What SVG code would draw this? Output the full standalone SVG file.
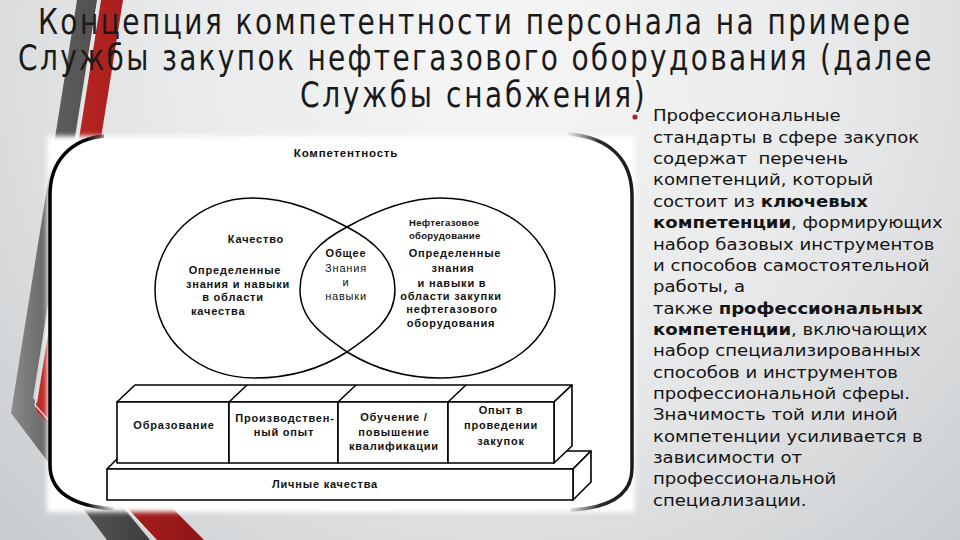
<svg xmlns="http://www.w3.org/2000/svg" width="960" height="540" viewBox="0 0 960 540">
  <defs>
    <radialGradient id="bg" cx="500" cy="60" r="760" gradientUnits="userSpaceOnUse">
      <stop offset="0" stop-color="#f6f6f6"/>
      <stop offset="0.45" stop-color="#e8e9ea"/>
      <stop offset="1" stop-color="#c2c6c9"/>
    </radialGradient>
    <linearGradient id="grayStripe" x1="0" y1="0" x2="1" y2="0">
      <stop offset="0" stop-color="#8a8a8a"/>
      <stop offset="0.35" stop-color="#5c5c5c"/>
      <stop offset="1" stop-color="#3e3e3e"/>
    </linearGradient>
    <linearGradient id="redStripe" x1="0" y1="0" x2="1" y2="0">
      <stop offset="0" stop-color="#c42a26"/>
      <stop offset="1" stop-color="#8e1515"/>
    </linearGradient>
    <linearGradient id="frameL" x1="50" y1="0" x2="116" y2="0" gradientUnits="userSpaceOnUse">
      <stop offset="0" stop-color="#000" stop-opacity="1"/>
      <stop offset="0.55" stop-color="#000" stop-opacity="1"/>
      <stop offset="1" stop-color="#000" stop-opacity="0"/>
    </linearGradient>
    <linearGradient id="frameR" x1="633" y1="0" x2="566" y2="0" gradientUnits="userSpaceOnUse">
      <stop offset="0" stop-color="#1a1a1a" stop-opacity="1"/>
      <stop offset="0.5" stop-color="#2a2a2a" stop-opacity="1"/>
      <stop offset="1" stop-color="#444" stop-opacity="0"/>
    </linearGradient>
    <filter id="soft" x="-5%" y="-5%" width="110%" height="110%">
      <feGaussianBlur stdDeviation="2.5"/>
    </filter>
    <style>
      .title { font-family: "DejaVu Sans", "Liberation Sans", sans-serif; font-size: 35px; fill: #1a1a1a; }
      .body { font-family: "DejaVu Sans", "Noto Sans", sans-serif; font-size: 16px; fill: #141414; }
      .b { font-weight: bold; }
      .t { font-family: "Liberation Sans", Arial, sans-serif; font-weight: bold; font-size: 11px; letter-spacing: 0.8px; text-anchor: middle; fill: #111; }
      .ts { font-family: "Liberation Sans", Arial, sans-serif; font-weight: bold; font-size: 9.5px; letter-spacing: 0.3px; fill: #111; }
      .tr { font-weight: normal; }
      .ln { fill: none; stroke: #000; stroke-width: 1.5; stroke-linejoin: round; }
      .box { fill: #fff; stroke: #000; stroke-width: 1.6; stroke-linejoin: round; }
    </style>
  </defs>

  <!-- background -->
  <rect x="0" y="0" width="960" height="540" fill="url(#bg)"/>

  <!-- decorative stripes -->
  <g id="stripes">
    <polygon points="77,0 97,0 33,398 150,540 107,540 11,413" fill="url(#grayStripe)"/>
    <polygon points="101,0 123,0 60,395 204,540 157,540 36,410" fill="url(#redStripe)"/>
    <polyline points="100,0 35,405 155,540" fill="none" stroke="#e6e6e6" stroke-width="1.2"/>
  </g>

  <!-- white picture area -->
  <rect x="47" y="136" width="588" height="376" fill="#ffffff" filter="url(#soft)"/>

  <!-- picture frame -->
  <g id="frame">
    <path d="M104,136 C72,139 50,160 50,195 L50,465 C50,492 72,506 114,509" fill="none" stroke="url(#frameL)" stroke-width="3.5"/>
    <path d="M568,134 C610,137 632,160 632,196 L632,468 C632,494 612,508 570,510" fill="none" stroke="url(#frameR)" stroke-width="3.5"/>
  </g>

  <!-- title (narrow letters: horizontal scale 0.8) -->
  <g id="title" transform="matrix(0.8 0 0 1 0 0)">
    <text class="title" x="47.5" y="34" textLength="1090" lengthAdjust="spacing">Концепция компетентности персонала на примере</text>
    <text class="title" x="22.5" y="70" textLength="1142" lengthAdjust="spacing">Службы закупок нефтегазового оборудования (далее</text>
    <text class="title" x="375" y="107" textLength="431" lengthAdjust="spacing">Службы снабжения)</text>
  </g>

  <!-- heading of the picture -->
  <g id="competence-label">
    <text class="t" x="346" y="157" style="font-size:11.5px">Компетентность</text>
  </g>

  <!-- Venn: quality -->
  <g id="venn-quality">
    <path class="ln" d="M347,227 C320,213 290,198 252,198 C199,198 155,240 155,290 C155,340 199,378 255,378 C295,378 325,366 347,352 C370,336 395,320 395,290 C395,258 372,240 347,227 Z"/>
    <text class="t" x="256" y="243">Качество</text>
    <text class="t" x="235" y="274">Определенные</text>
    <text class="t" x="238" y="288">знания и навыки</text>
    <text class="t" x="233" y="301">в области</text>
    <text class="t" x="191" y="315" style="text-anchor:start">качества</text>
  </g>

  <!-- Venn: oil & gas equipment -->
  <g id="venn-equipment">
    <path class="ln" d="M347,227 C372,213 405,198 440,198 C505,198 555,240 555,290 C555,340 505,378 440,378 C400,378 370,366 347,352 C324,336 300,320 300,290 C300,258 322,240 347,227 Z"/>
    <text class="ts" x="409" y="226">Нефтегазовое</text>
    <text class="ts" x="409" y="239">оборудование</text>
    <text class="t" x="455" y="257">Определенные</text>
    <text class="t" x="453" y="272">знания</text>
    <text class="t" x="452" y="287">и навыки в</text>
    <text class="t" x="451" y="300">области закупки</text>
    <text class="t" x="452" y="313">нефтегазового</text>
    <text class="t" x="451" y="327">оборудования</text>
  </g>

  <!-- Venn: common -->
  <g id="venn-common">
    <text class="t" x="346" y="257">Общее</text>
    <text class="t tr" x="346" y="272">Знания</text>
    <text class="t tr" x="346" y="286">и</text>
    <text class="t tr" x="346" y="300">навыки</text>
  </g>

  <!-- base slab: personal qualities -->
  <g id="personal-qualities">
    <polygon class="box" points="107,469 125,451 591,451 573,469"/>
    <polygon class="box" points="573,469 591,451 591,482 573,500"/>
    <rect class="box" x="107" y="469" width="466" height="31"/>
    <text class="t" x="325" y="488">Личные качества</text>
  </g>

  <!-- upper row of blocks -->
  <g id="blocks-frame">
    <polygon class="box" points="117,402 135,385 572,385 554,402"/>
    <polygon class="box" points="554,402 572,385 572,446 554,463"/>
    <path class="ln" d="M229,402 L247,385 M338,402 L356,385 M448,402 L466,385" stroke-width="1.6"/>
  </g>
  <g id="block-education">
    <rect class="box" x="117" y="402" width="112" height="61"/>
    <text class="t" x="174" y="429">Образование</text>
  </g>
  <g id="block-experience">
    <rect class="box" x="229" y="402" width="109" height="61"/>
    <text class="t" x="285" y="422">Производствен-</text>
    <text class="t" x="284" y="436">ный опыт</text>
  </g>
  <g id="block-training">
    <rect class="box" x="338" y="402" width="110" height="61"/>
    <text class="t" x="394" y="421">Обучение /</text>
    <text class="t" x="394" y="436">повышение</text>
    <text class="t" x="394" y="450">квалификации</text>
  </g>
  <g id="block-procurement">
    <rect class="box" x="448" y="402" width="106" height="61"/>
    <text class="t" x="501" y="414">Опыт в</text>
    <text class="t" x="501" y="429">проведении</text>
    <text class="t" x="501" y="445">закупок</text>
  </g>

  <!-- right-hand text -->
  <g id="description">
    <circle cx="635" cy="117" r="2.6" fill="#a02c24"/>
    <g transform="matrix(1.13 0 0 1 653 0)">
      <text class="body" x="0" y="121.5">Профессиональные</text>
      <text class="body" x="0" y="143">стандарты в сфере закупок</text>
      <text class="body" x="0" y="164.2">содержат&#160; перечень</text>
      <text class="body" x="0" y="185.5">компетенций, который</text>
      <text class="body" x="0" y="207">состоит из <tspan class="b">ключевых</tspan></text>
      <text class="body" x="0" y="228.3"><tspan class="b">компетенции</tspan>, формирующих</text>
      <text class="body" x="0" y="249.6">набор базовых инструментов</text>
      <text class="body" x="0" y="271">и способов самостоятельной</text>
      <text class="body" x="0" y="292.3">работы, а</text>
      <text class="body" x="0" y="313.7">также <tspan class="b">профессиональных</tspan></text>
      <text class="body" x="0" y="335"><tspan class="b">компетенции</tspan>, включающих</text>
      <text class="body" x="0" y="356.4">набор специализированных</text>
      <text class="body" x="0" y="377.7">способов и инструментов</text>
      <text class="body" x="0" y="399">профессиональной сферы.</text>
      <text class="body" x="0" y="420.4">Значимость той или иной</text>
      <text class="body" x="0" y="441.8">компетенции усиливается в</text>
      <text class="body" x="0" y="463.1">зависимости от</text>
      <text class="body" x="0" y="484.5">профессиональной</text>
      <text class="body" x="0" y="505.8">специализации.</text>
    </g>
  </g>
</svg>
